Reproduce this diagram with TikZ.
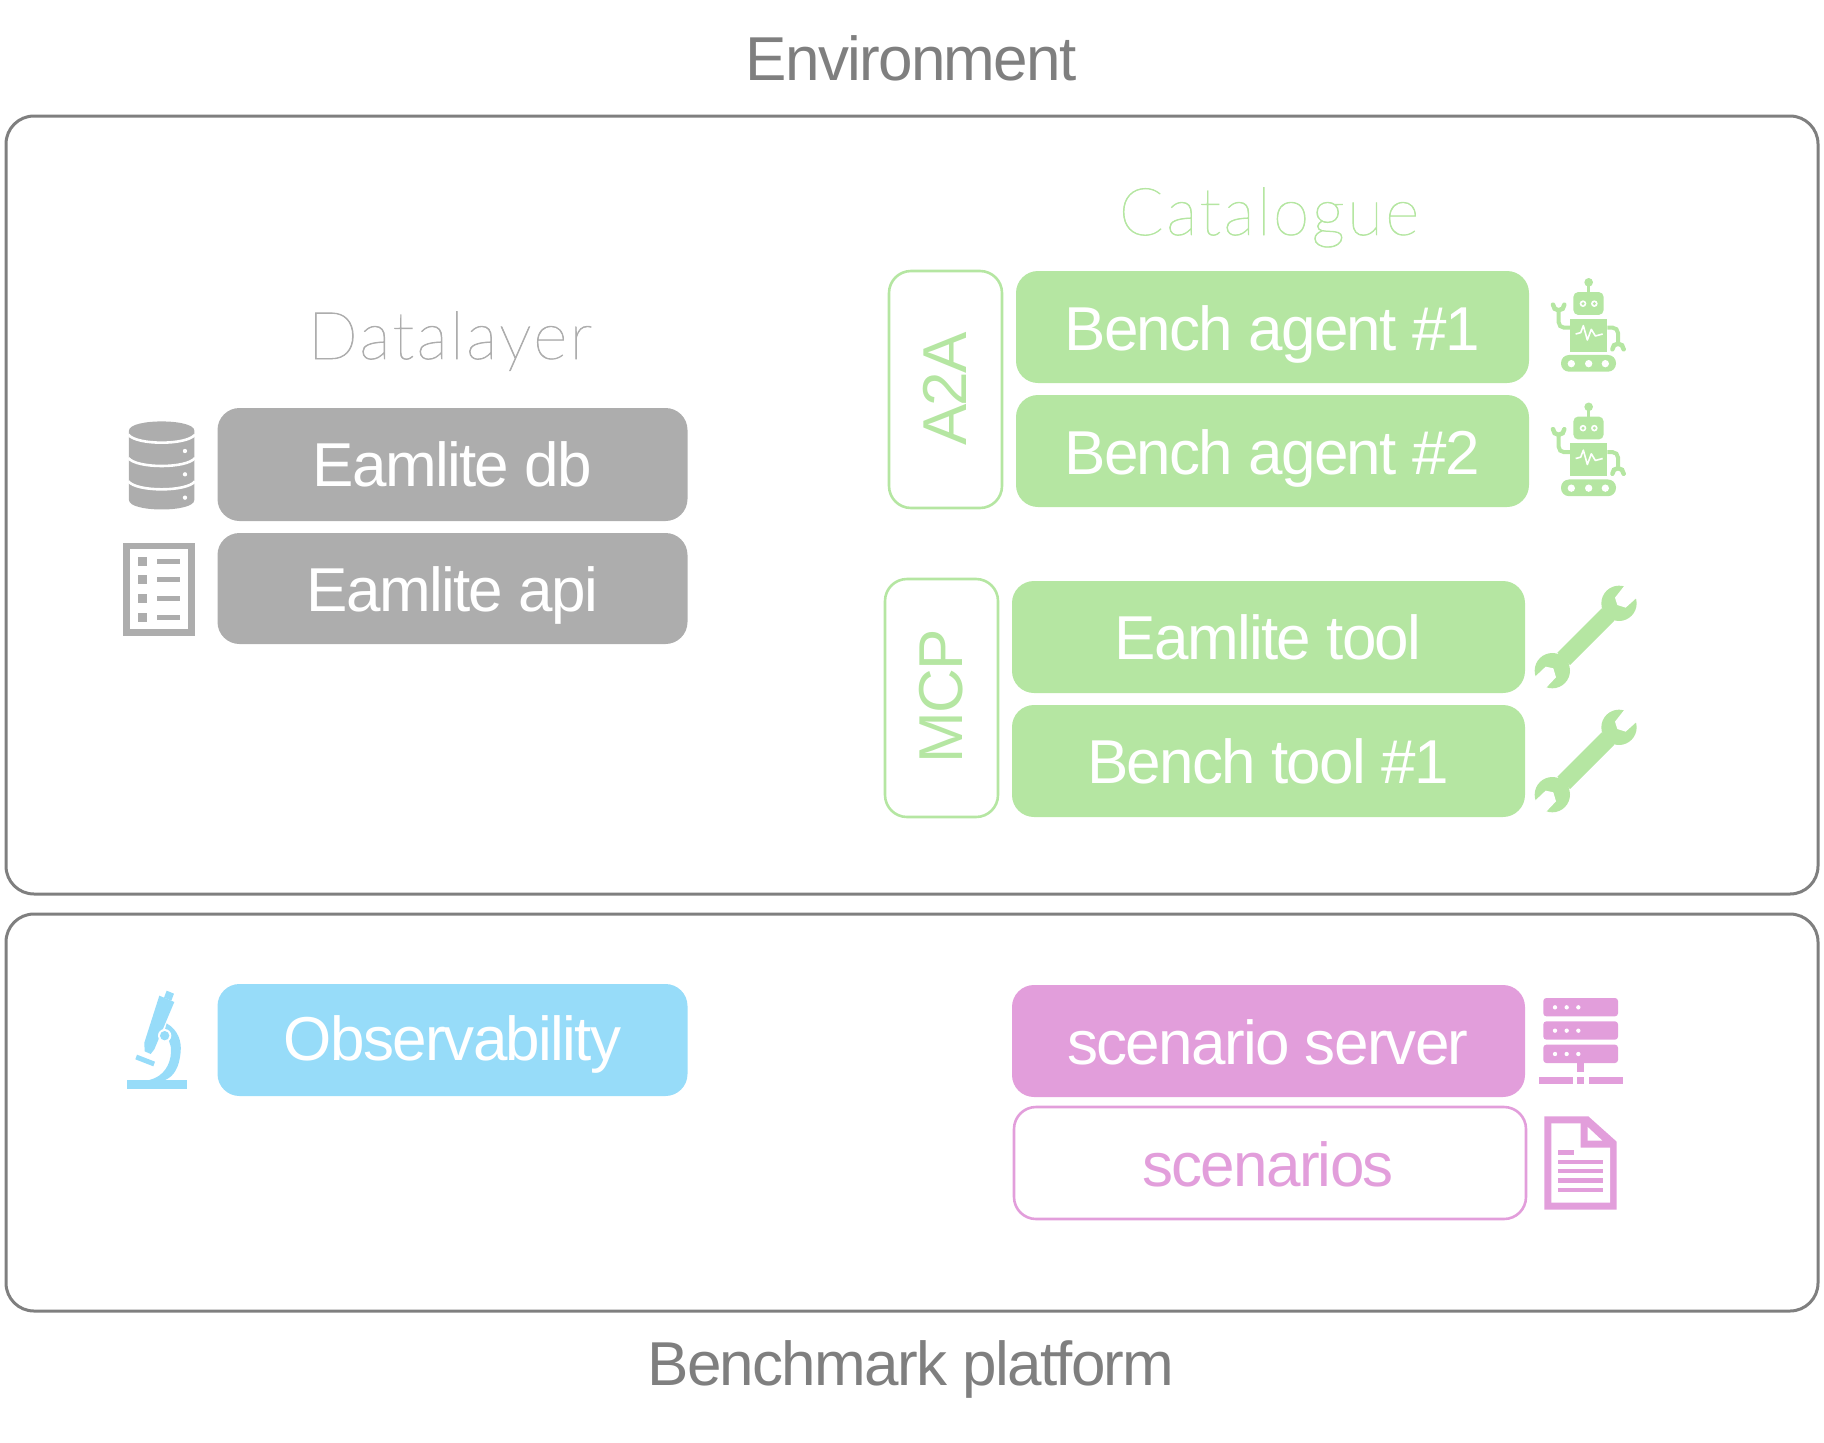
\documentclass[tikz,border=0pt]{standalone}
\usepackage{fontspec}
\setmainfont{Liberation Sans}[LetterSpace=-2.8]
\newfontfamily\thinfont{Lato Thin}[LetterSpace=3.5,FakeBold=1]
\definecolor{gtext}{HTML}{7F7F7F}
\definecolor{gbox}{HTML}{ADADAD}
\definecolor{lgtext}{HTML}{ADADAD}
\definecolor{grn}{HTML}{B5E6A2}
\definecolor{blu}{HTML}{97DCF9}
\definecolor{pnk}{HTML}{E29EDB}
\tikzset{
  x=1pt,y=-1pt,
  frame/.style={draw=gtext,line width=3pt,rounded corners=28pt,fill=none},
  fbox/.style={rounded corners=22pt,inner sep=0pt},
  lbl/.style={font=\fontsize{62}{62}\selectfont,white,anchor=base,inner sep=0pt},
  tit/.style={font=\fontsize{62}{62}\selectfont,anchor=base,inner sep=0pt},
  thin/.style={font=\thinfont\fontsize{66}{66}\selectfont,anchor=base,inner sep=0pt},
  robot/.pic={
    \begin{scope}[x=0.3333pt,y=-0.3333pt,fill=grn]
    \fill (176,67) circle (13);
    \fill (172,70) rectangle (180,100);
    \fill[rounded corners=5pt] (130,96) rectangle (221,165);
    \foreach \xx in {159,193}{\fill[white] (\xx,131) circle (10); \fill (\xx,131) circle (5);}
    \fill (120,177) rectangle (232,275);
    \draw[white,line width=1.6pt,line join=round] (137,222) -- (152,218) -- (160,197) -- (172,240) -- (184,208) -- (196,228) -- (218,222);
    \draw[grn,line width=4pt] (120,203) -- (102,203) arc[start angle=90,end angle=180,radius=16] -- (86,155);
    \draw[grn,line width=4.5pt,line cap=round] (69,134) arc[start angle=180,end angle=0,radius=17];
    \draw[grn,line width=4pt] (232,203) -- (248,203) arc[start angle=270,end angle=360,radius=16] -- (264,250);
    \draw[grn,line width=4.5pt,line cap=round] (247,268) arc[start angle=180,end angle=360,radius=17];
    \fill[rounded corners=8pt] (93,285) rectangle (258,335);
    \foreach \xx in {124,176,226}{\fill[white] (\xx,311) circle (11);}
    \end{scope}
  },
  wrench/.pic={
    \begin{scope}[x=0.3333pt,y=-0.3333pt]
    \fill[grn] (245,115) -- (283,152) -- (150,285) -- (112,248) -- cycle;
    \fill[grn] (297,100) circle (53);
    \fill[grn] (97,302) circle (53);
    \fill[white] (315,45) -- (285,83) -- (292,105) -- (317,113) -- (358,76) -- (340,30) -- cycle;
    \fill[white] (38,327) -- (77,290) -- (100,295) -- (108,322) -- (72,360) -- (30,360) -- cycle;
    \end{scope}
  }
}
\begin{document}
\begin{tikzpicture}
\useasboundingbox (0,0) rectangle (1824,1443);
% frames
\node[tit,text=gtext] (env) at (911,80) {Environment};
\node[tit,text=gtext] (bench) at (911,1385) {Benchmark platform};
\draw[frame] (6,116) rectangle (1818,894);
\draw[frame] (6,914) rectangle (1818,1311);
% datalayer
\node[thin,text=lgtext] (dl) at (450,359) {Datalayer};
\fill[gbox,fbox] (217.5,408) rectangle (687.5,521);
\node[lbl] (db) at (452.5,486) {Eamlite db};
\fill[gbox,fbox] (217.5,533) rectangle (687.5,644);
\node[lbl] (api) at (452.5,611) {Eamlite api};
% catalogue
\node[thin,text=grn] (cat) at (1269,235) {Catalogue};
\draw[grn,line width=2.6pt,rounded corners=22pt] (889,271) rectangle (1002,508);
\node[tit,text=grn,rotate=90,anchor=center] (a2a) at (945,389) {A2A};
\fill[grn,fbox] (1016,271) rectangle (1529,383);
\node[lbl] (b1) at (1272,350) {Bench agent \#1};
\fill[grn,fbox] (1016,395) rectangle (1529,507);
\node[lbl] (b2) at (1272,474) {Bench agent \#2};
\draw[grn,line width=2.6pt,rounded corners=22pt] (885,579) rectangle (998,817);
\node[tit,text=grn,rotate=90,anchor=center] (mcp) at (941,696) {MCP};
\fill[grn,fbox] (1012,581) rectangle (1525,693);
\node[lbl] (et) at (1268,659) {Eamlite tool};
\fill[grn,fbox] (1012,705) rectangle (1525,817);
\node[lbl] (bt) at (1268,783) {Bench tool \#1};
% observability
\fill[blu,fbox] (217.5,984) rectangle (687.5,1096);
\node[lbl] (ob) at (452.5,1060) {Observability};
\fill[pnk,fbox] (1012,985) rectangle (1525,1097);
\node[lbl] (ss) at (1268,1064) {scenario server};
\draw[pnk,line width=2.6pt,rounded corners=22pt] (1014,1107) rectangle (1526,1219);
\node[tit,text=pnk] (sc) at (1268,1186) {scenarios};
% robots and wrenches
\pic at (1530,260) {robot};
\pic at (1530,384.5) {robot};
\pic at (1520,570) {wrench};
\pic at (1520,694) {wrench};
% db icon
\begin{scope}[shift={(100,400)},x=0.3333pt,y=-0.3333pt]
\fill[gbox] (87,92) -- (87,300) .. controls (87,338) and (283,338) .. (283,300) -- (283,92) .. controls (283,55) and (87,55) .. (87,92) -- cycle;
\foreach \yy in {104,174,244}{
  \draw[white,line width=2.6pt] (85,\yy) .. controls (110,\yy+32) and (260,\yy+32) .. (285,\yy);
}
\foreach \yy in {153,223,293}{\fill[white] (255,\yy) circle (6.5);}
\end{scope}
% list icon
\begin{scope}[shift={(100,400)},x=0.3333pt,y=-0.3333pt]
\fill[gbox] (70,428) rectangle (285,708);
\fill[white] (90,448) rectangle (265,688);
\foreach \yy in {470,526,582,638}{\fill[gbox] (115,\yy) rectangle (142,\yy+27); \fill[gbox] (170,\yy+6) rectangle (240,\yy+21);}
\end{scope}
% microscope
\begin{scope}[shift={(110,980)},x=0.3333pt,y=-0.3333pt]
\fill[blu] (51,300) rectangle (231,327);
\fill[blu] (81,224) -- (135,245) -- (130,259) -- (76,238) -- cycle;
\fill[blu] (170,130) .. controls (205,150) and (215,185) .. (212,215) .. controls (208,265) and (190,290) .. (165,300) -- (118,300) .. controls (160,290) and (182,255) .. (183,215) .. controls (184,190) and (175,175) .. (160,165) -- cycle;
\fill[blu] (148,47) -- (193,66) -- (133,208) -- (122,222) -- (104,214) -- (103,188) -- cycle;
\fill[blu] (170,32) -- (192,41) -- (184,62) -- (162,53) -- cycle;
\fill[white] (164,167) circle (20);
\fill[blu] (164,167) circle (14);
\end{scope}
% server and doc
\begin{scope}[shift={(1520,980)},x=0.3333pt,y=-0.3333pt]
\foreach \yy in {54,124,194}{
  \fill[pnk,rounded corners=3pt] (70,\yy) rectangle (294,\yy+55);
  \foreach \xx in {105,140,175}{\fill[white] (\xx,\yy+28) circle (6.5);}
}
\fill[pnk] (171,249) rectangle (192,277);
\fill[pnk] (56,292) rectangle (158,313);
\fill[pnk] (171,292) rectangle (192,313);
\fill[pnk] (206,292) rectangle (308,313);
\fill[pnk] (73,409) -- (205,409) -- (290,485) -- (290,689) -- (73,689) -- cycle;
\fill[white] (94,430) -- (182,430) -- (182,503) -- (270,503) -- (270,668) -- (94,668) -- cycle;
\fill[white] (203,441) -- (203,482) -- (247,482) -- cycle;
\fill[pnk] (115,511) rectangle (161,524);
\foreach \yy in {539,567,595,623}{\fill[pnk] (115,\yy) rectangle (249,\yy+13);}
\end{scope}
\end{tikzpicture}
\end{document}
